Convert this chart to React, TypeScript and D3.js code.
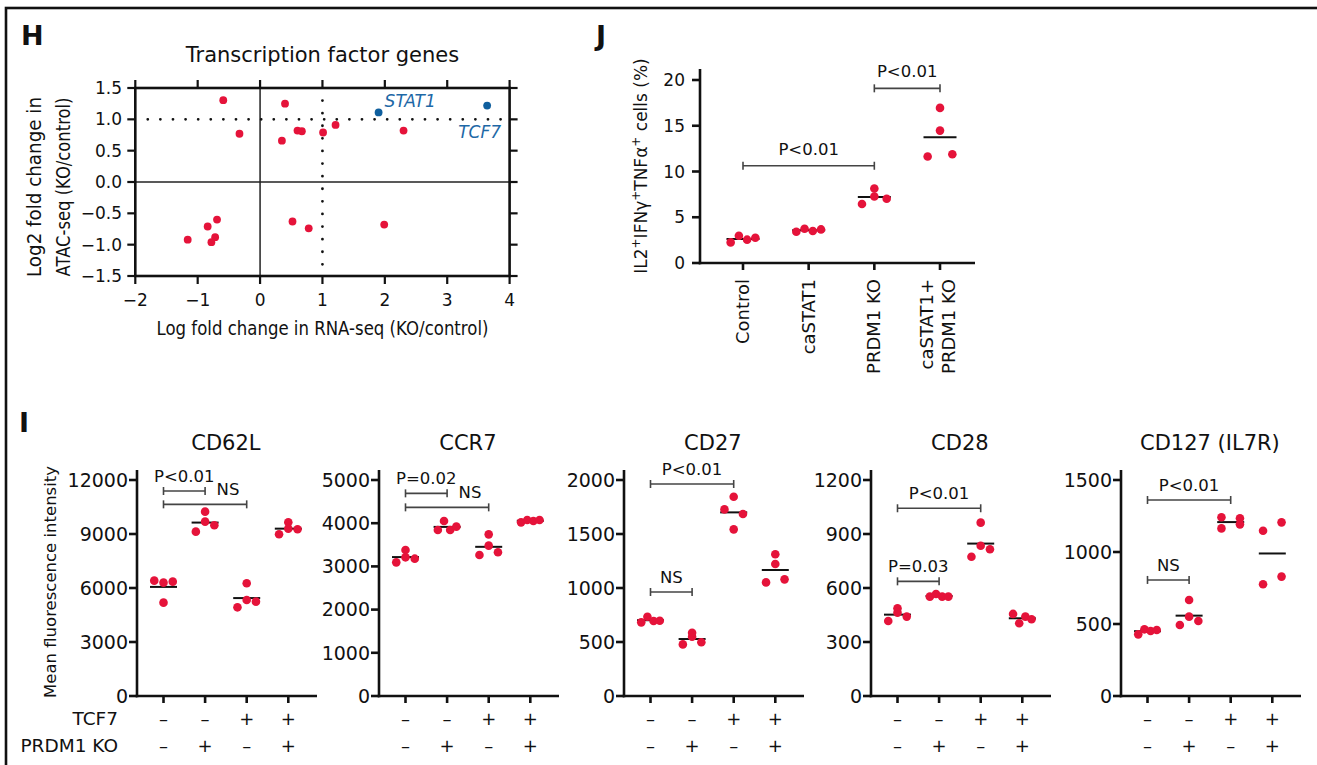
import React from "react";
import * as d3 from "d3";

const FONT = "'DejaVu Sans', sans-serif";
const RED = "#e5133a";
const BLUE = "#0f5f9e";
const INK = "#111";

// ---- panel H: transcription factor genes ----
const tfRnaLfc = [-0.59, -0.33, 0.4, 0.35, 0.6, 0.67, 1.01, 1.21, 2.3, -1.16, -0.84, -0.69, -0.72, -0.78, 0.52, 0.78, 1.99];
const tfAtacLfc = [1.305, 0.77, 1.25, 0.66, 0.82, 0.81, 0.79, 0.91, 0.82, -0.92, -0.71, -0.6, -0.88, -0.96, -0.63, -0.74, -0.68];
const hlGenes = ["STAT1", "TCF7"];
const hlRnaLfc = [1.9, 3.64];
const hlAtacLfc = [1.11, 1.22];
const hTicksX = [-2, -1, 0, 1, 2, 3, 4];
const hTicksY = [-1.5, -1, -0.5, 0, 0.5, 1, 1.5];

// ---- panel J: IL2+IFNg+TNFa+ cells ----
const jGroups = ["Control", "caSTAT1", "PRDM1 KO", "caSTAT1+|PRDM1 KO"];
const jValues = [
  [2.25, 2.98, 2.55, 2.76],
  [3.42, 3.75, 3.49, 3.67],
  [6.44, 7.27, 8.15, 7.02],
  [11.64, 16.95, 14.47, 11.89],
];
const jTicks = [0, 5, 10, 15, 20];
const jBrackets = [
  { from: 0, to: 2, at: 10.63, label: "P<0.01" },
  { from: 2, to: 3, at: 19.09, label: "P<0.01" },
];

// ---- panel I: MFI of memory markers ----
const markers = ["CD62L", "CCR7", "CD27", "CD28", "CD127 (IL7R)"];
const markerMax = [12000, 5000, 2000, 1200, 1500];
const markerStep = [3000, 1000, 500, 300, 500];
const tcf7Row = ["–", "–", "+", "+"];
const prdm1Row = ["–", "+", "–", "+"];
const cd62l = [[6408, 6297, 5186, 6352], [9130, 9686, 10241, 9482], [4926, 6260, 5334, 5241], [8982, 9649, 9297, 9260]];
const ccr7 = [[3380, 3094, 3210, 3179], [3843, 4051, 3843, 3920], [3264, 3742, 3480, 3326], [4020, 4074, 4051, 4074]];
const cd27 = [[682, 734, 694, 697], [478, 549, 586, 497], [1728, 1845, 1543, 1685], [1052, 1312, 1222, 1080]];
const cd28 = [[487, 417, 463, 441], [552, 567, 552, 552], [835, 774, 963, 815], [456, 404, 441, 426]];
const cd127 = [[428, 463, 451, 458], [493, 667, 551, 521], [1241, 1164, 1234, 1192], [1148, 776, 1206, 829]];
const markerValues = [cd62l, ccr7, cd27, cd28, cd127];
const markerBrackets = [
  [{ from: 0, to: 1, at: 11389, label: "P<0.01" }, { from: 0, to: 2, at: 10648, label: "NS", labelAt: 1.55 }],
  [{ from: 0, to: 1, at: 4691, label: "P=0.02" }, { from: 0, to: 2, at: 4367, label: "NS", labelAt: 1.55 }],
  [{ from: 0, to: 2, at: 1963, label: "P<0.01" }, { from: 0, to: 1, at: 963, label: "NS" }],
  [{ from: 0, to: 2, at: 1043, label: "P<0.01" }, { from: 0, to: 1, at: 637, label: "P=0.03" }],
  [{ from: 0, to: 2, at: 1361, label: "P<0.01" }, { from: 0, to: 1, at: 806, label: "NS" }],
];

// layout
const panelX = [137, 379, 624, 871, 1121];

// Prism-like spread: points at similar heights are laid side by side
function swarmOffsets(values: number[], y: (v: number) => number, span: number, thr: number) {
  const order = d3.range(values.length).sort((a, b) => values[a] - values[b]);
  const off = values.map(() => 0);
  let i = 0;
  while (i < order.length) {
    const first = y(values[order[i]]);
    let j = i + 1;
    while (j < order.length && Math.abs(y(values[order[j]]) - first) < thr) j++;
    const members = order.slice(i, j).sort((a, b) => a - b);
    const n = members.length;
    members.forEach((m, k) => {
      off[m] = n === 1 ? 0 : (k / (n - 1) - 0.5) * span;
    });
    i = j;
  }
  return off;
}

function Bracket({ x1, x2, y, label, lx, fs, gap }: any) {
  return (
    <g>
      <g stroke="#444" strokeWidth={1.6}>
        <line x1={x1} x2={x2} y1={y} y2={y} />
        <line x1={x1} x2={x1} y1={y - 4} y2={y + 4} />
        <line x1={x2} x2={x2} y1={y - 4} y2={y + 4} />
      </g>
      <text x={lx} y={y - gap} textAnchor="middle" fontSize={fs} fill={INK}>
        {label}
      </text>
    </g>
  );
}

function PanelH() {
  const x = d3.scaleLinear().domain([-2, 4]).range([135.3, 509.6]);
  const y = d3.scaleLinear().domain([-1.5, 1.5]).range([276, 88]);
  const fmt = d3.format(".1f");
  return (
    <g>
      <text x={21} y={45} fontSize={27} fontWeight="bold" fill={INK}>H</text>
      <text x={322.5} y={62} fontSize={21} textAnchor="middle" fill={INK}>
        Transcription factor genes
      </text>
      {/* inner zero lines */}
      <line x1={x(-2)} x2={x(4)} y1={y(0)} y2={y(0)} stroke="#222" strokeWidth={1.5} />
      <line x1={x(0)} x2={x(0)} y1={y(1.5)} y2={y(-1.5)} stroke="#222" strokeWidth={1.5} />
      {/* dotted thresholds */}
      <g stroke={INK} strokeWidth={2.8} strokeLinecap="round" strokeDasharray="0 12.6">
        <line x1={x(-1.8)} x2={x(3.9)} y1={y(1)} y2={y(1)} />
        <line x1={x(1)} x2={x(1)} y1={y(1.3)} y2={y(-1.4)} />
      </g>
      <rect x={x(-2)} y={y(1.5)} width={x(4) - x(-2)} height={y(-1.5) - y(1.5)} fill="none" stroke={INK} strokeWidth={2.6} />
      <g stroke={INK} strokeWidth={2.2}>
        {hTicksX.map((t) => (
          <g key={"tx" + t}>
            <line x1={x(t)} x2={x(t)} y1={y(-1.5)} y2={y(-1.5) + 8} />
            <line x1={x(t)} x2={x(t)} y1={y(1.5)} y2={y(1.5) - 8} />
          </g>
        ))}
        {hTicksY.map((t) => (
          <g key={"ty" + t}>
            <line x1={x(-2) - 8} x2={x(-2)} y1={y(t)} y2={y(t)} />
            <line x1={x(4)} x2={x(4) + 8} y1={y(t)} y2={y(t)} />
          </g>
        ))}
      </g>
      <g fontSize={17} fill={INK}>
        {hTicksX.map((t) => (
          <text key={"lx" + t} x={x(t)} y={306} textAnchor="middle">{d3.format("d")(t)}</text>
        ))}
        {hTicksY.map((t) => (
          <text key={"ly" + t} x={122} y={y(t)} dy="0.36em" textAnchor="end">{fmt(t)}</text>
        ))}
      </g>
      <text x={322.5} y={335} fontSize={19} textAnchor="middle" fill={INK} textLength={332} lengthAdjust="spacingAndGlyphs">
        Log fold change in RNA-seq (KO/control)
      </text>
      <g fontSize={19} fill={INK} textAnchor="middle">
        <text transform={`translate(41,187) rotate(-90)`} textLength={180} lengthAdjust="spacingAndGlyphs">Log2 fold change in</text>
        <text transform={`translate(70,187) rotate(-90)`} textLength={179} lengthAdjust="spacingAndGlyphs">ATAC-seq (KO/control)</text>
      </g>
      {tfRnaLfc.map((v, i) => (
        <circle key={"r" + i} cx={x(v)} cy={y(tfAtacLfc[i])} r={3.9} fill={RED} />
      ))}
      {hlGenes.map((g, i) => (
        <circle key={"b" + g} cx={x(hlRnaLfc[i])} cy={y(hlAtacLfc[i])} r={3.9} fill={BLUE} />
      ))}
      <g fontSize={17} fontStyle="italic" fill="#1e68a6">
        <text x={x(hlRnaLfc[0]) + 6} y={107}>{hlGenes[0]}</text>
        <text x={501} y={138} textAnchor="end">{hlGenes[1]}</text>
      </g>
    </g>
  );
}

function PanelJ() {
  const x = d3.scalePoint<number>().domain(d3.range(jGroups.length)).range([743, 940]);
  const y = d3.scaleLinear().domain([0, 20]).range([263, 80]);
  return (
    <g>
      <text x={596} y={45} fontSize={27} fontWeight="bold" fill={INK}>J</text>
      <g stroke={INK} strokeWidth={2.6}>
        <line x1={700} x2={700} y1={69} y2={264.3} />
        <line x1={698.7} x2={975} y1={263} y2={263} />
        {jTicks.map((t) => (
          <line key={t} x1={692} x2={700} y1={y(t)} y2={y(t)} />
        ))}
        {jGroups.map((g, i) => (
          <line key={g} x1={x(i)} x2={x(i)} y1={263} y2={270} />
        ))}
      </g>
      <g fontSize={17} fill={INK}>
        {jTicks.map((t) => (
          <text key={t} x={685} y={y(t)} dy="0.36em" textAnchor="end">{t}</text>
        ))}
      </g>
      <g fontSize={18} fill={INK} textAnchor="end">
        {jGroups.map((g, i) => {
          const lines = g.split("|");
          if (lines.length === 1)
            return (
              <text key={g} transform={`translate(${x(i)! + 6},279) rotate(-90)`}>{g}</text>
            );
          return (
            <g key={g}>
              <text transform={`translate(${x(i)! - 7},279) rotate(-90)`}>{lines[0]}</text>
              <text transform={`translate(${x(i)! + 15},279) rotate(-90)`}>{lines[1]}</text>
            </g>
          );
        })}
      </g>
      <text transform="translate(647,166) rotate(-90)" fontSize={17} textAnchor="middle" fill={INK}>
        IL2<tspan baselineShift="super" fontSize={12}>+</tspan>IFNγ<tspan baselineShift="super" fontSize={12}>+</tspan>TNFα<tspan baselineShift="super" fontSize={12}>+</tspan> cells (%)
      </text>
      {jValues.map((vals, i) => {
        const off = swarmOffsets(vals, y, 24.7, 9.5);
        const m = d3.mean(vals)!;
        return (
          <g key={i}>
            <line x1={x(i)! - 16.5} x2={x(i)! + 16.5} y1={y(m)} y2={y(m)} stroke={INK} strokeWidth={2} />
            {vals.map((v, k) => (
              <circle key={k} cx={x(i)! + off[k]} cy={y(v)} r={4.3} fill={RED} />
            ))}
          </g>
        );
      })}
      {jBrackets.map((b, i) => (
        <Bracket key={i} x1={x(b.from)} x2={x(b.to)} y={y(b.at)} label={b.label}
          lx={(x(b.from)! + x(b.to)!) / 2} fs={16.5} gap={11} />
      ))}
    </g>
  );
}

function MarkerPanel({ idx }: { idx: number }) {
  const x0 = panelX[idx];
  const x = d3.scaleLinear().domain([0, 3]).range([x0 + 26.5, x0 + 26.5 + 3 * 41.6]);
  const y = d3.scaleLinear().domain([0, markerMax[idx]]).range([696, 480]);
  const ticks = d3.range(0, markerMax[idx] + 1, markerStep[idx]);
  return (
    <g>
      <text x={x(1.5)} y={450} fontSize={21} textAnchor="middle" fill={INK}>{markers[idx]}</text>
      <g stroke={INK} strokeWidth={2.6}>
        <line x1={x0} x2={x0} y1={470} y2={697.3} />
        <line x1={x0 - 1.3} x2={x0 + 180} y1={696} y2={696} />
        {ticks.map((t) => (
          <line key={t} x1={x0 - 8} x2={x0} y1={y(t)} y2={y(t)} />
        ))}
        {d3.range(4).map((i) => (
          <line key={i} x1={x(i)} x2={x(i)} y1={696} y2={703} />
        ))}
      </g>
      <g fontSize={19} fill={INK}>
        {ticks.map((t) => (
          <text key={t} x={x0 - 9} y={y(t)} dy="0.36em" textAnchor="end">{t}</text>
        ))}
      </g>
      <g fontSize={18} fill={INK} textAnchor="middle">
        {tcf7Row.map((s, i) => (
          <text key={"a" + i} x={x(i)} y={725}>{s}</text>
        ))}
        {prdm1Row.map((s, i) => (
          <text key={"b" + i} x={x(i)} y={752}>{s}</text>
        ))}
      </g>
      {markerValues[idx].map((vals, i) => {
        const off = swarmOffsets(vals, y, 18.5, 9.5);
        const m = d3.mean(vals)!;
        return (
          <g key={i}>
            <line x1={x(i) - 13.5} x2={x(i) + 13.5} y1={y(m)} y2={y(m)} stroke={INK} strokeWidth={2} />
            {vals.map((v, k) => (
              <circle key={k} cx={x(i) + off[k]} cy={y(v)} r={4.3} fill={RED} />
            ))}
          </g>
        );
      })}
      {markerBrackets[idx].map((b: any, i) => (
        <Bracket key={i} x1={x(b.from)} x2={x(b.to)} y={y(b.at)} label={b.label}
          lx={x(b.labelAt ?? (b.from + b.to) / 2)} fs={16.5} gap={9} />
      ))}
    </g>
  );
}

export default function App() {
  return (
    <svg
      width={1317}
      height={765}
      style={{ position: "absolute", left: 0, top: 0, display: "block", background: "#fff" }}
      fontFamily={FONT}
    >
      <rect x={6} y={8} width={1340} height={820} fill="#fff" stroke={INK} strokeWidth={2.6} />
      <PanelH />
      <PanelJ />
      <text x={19} y={432} fontSize={27} fontWeight="bold" fill={INK}>I</text>
      <text transform="translate(56,582) rotate(-90)" fontSize={16.5} textAnchor="middle" fill={INK}>
        Mean fluorescence intensity
      </text>
      <g fontSize={18.5} fill={INK} textAnchor="end">
        <text x={118} y={725}>TCF7</text>
        <text x={118} y={752}>PRDM1 KO</text>
      </g>
      {markers.map((m, i) => (
        <MarkerPanel key={m} idx={i} />
      ))}
    </svg>
  );
}
